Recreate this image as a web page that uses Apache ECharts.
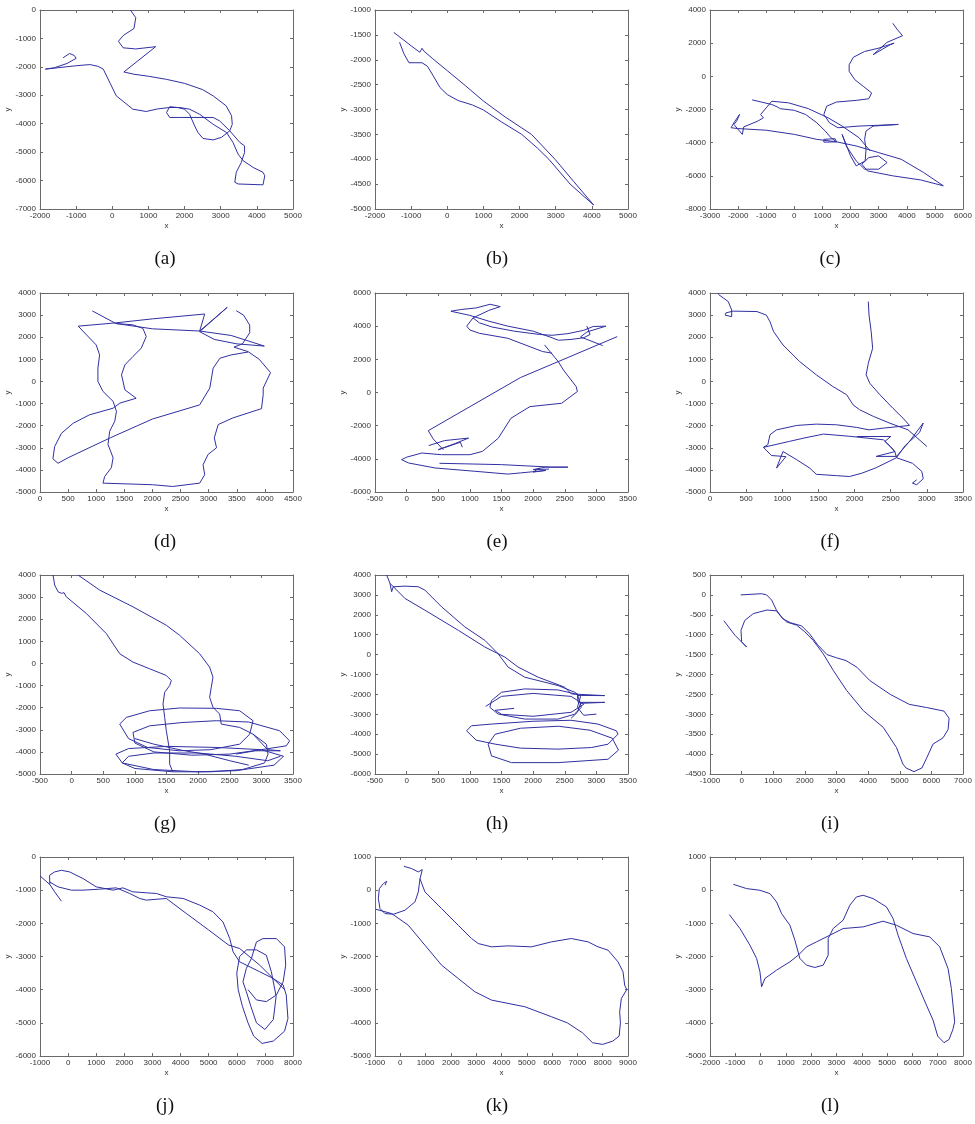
<!DOCTYPE html>
<html>
<head>
<meta charset="utf-8">
<title>trajectories</title>
<script src="https://cdn.jsdelivr.net/npm/echarts@6/dist/echarts.min.js"></script>
<style>
	html, body { margin: 0; padding: 0; background: #fff; }
	#main { width: 975px; height: 1124px; }
</style>
</head>
<body>
<div id="main"></div>
<script type="text/javascript">
	// subplot captions
	var labels = ['(a)', '(b)', '(c)', '(d)', '(e)', '(f)', '(g)', '(h)', '(i)', '(j)', '(k)', '(l)'];

	// axis ranges of every subplot: [min, max, step]
	var xRanges = [
		[-2000, 5000, 1000], [-2000, 5000, 1000], [-3000, 6000, 1000],
		[0, 4500, 500], [-500, 3500, 500], [0, 3500, 500],
		[-500, 3500, 500], [-500, 3500, 500], [-1000, 7000, 1000],
		[-1000, 8000, 1000], [-1000, 9000, 1000], [-2000, 8000, 1000]
	];
	var yRanges = [
		[-7000, 0, 1000], [-5000, -1000, 500], [-8000, 4000, 2000],
		[-5000, 4000, 1000], [-6000, 6000, 2000], [-5000, 4000, 1000],
		[-5000, 4000, 1000], [-6000, 4000, 1000], [-4500, 500, 500],
		[-6000, 0, 1000], [-5000, 1000, 1000], [-5000, 1000, 1000]
	];

	// trajectories (each panel = list of strokes)
	var pathA = [[
		[500,0],[650,-270],[600,-650],[300,-900],[170,-1100],[300,-1330],[650,-1370],[1200,-1290],[320,-2180],
		[600,-2260],[1000,-2330],[1500,-2440],[2000,-2580],[2500,-2800],[2800,-3030],[3150,-3370],[3300,-3720],
		[3320,-4020],[3250,-4250],[3020,-4480],[2790,-4570],[2510,-4520],[2370,-4310],[2280,-4080],[2140,-3670],
		[2000,-3490],[1800,-3430],[1590,-3400],[1500,-3610],[1590,-3780],[1870,-3780],[2790,-3780],[2970,-3900],
		[3250,-4250],[3530,-4660],[3660,-4780],[3660,-5010],[3570,-5360],[3430,-5710],[3390,-6060],[3480,-6120],
		[4170,-6150],[4220,-5830],[4170,-5710],[3900,-5540],[3620,-5300],[3480,-5070],[3340,-4660],[3160,-4310],
		[2790,-4020],[2420,-3670],[2140,-3490],[1870,-3430],[1590,-3430],[1250,-3480],[940,-3570],[570,-3490],
		[110,-3020],[-50,-2600],[-250,-2080],[-400,-1980],[-620,-1920],[-1000,-1960],[-1500,-2030],[-1850,-2080],
		[-1600,-2030],[-1250,-1880],[-1000,-1700],[-1050,-1600],[-1180,-1530],[-1360,-1680]
	]];
	var pathB = [[
		[-1320,-1650],[-1200,-1880],[-1060,-2060],[-700,-2060],[-550,-2130],[-400,-2310],[-200,-2560],[0,-2700],
		[300,-2820],[700,-2910],[1000,-3010],[1500,-3250],[2060,-3500],[2500,-3780],[2810,-4000],[3400,-4500],
		[4050,-4920],[3500,-4450],[2980,-4000],[2330,-3500],[1600,-3150],[1000,-2830],[500,-2520],[0,-2220],
		[-400,-1980],[-640,-1830],[-700,-1770],[-760,-1850],[-1000,-1720],[-1480,-1450]
	]];
	var pathC = [[
		[3500,3200],[3650,2850],[3850,2450],[3800,2350],[3300,2050],[2800,1300],[3400,1900],[3550,2000],[3000,1700],
		[2500,1500],[2100,1150],[1950,700],[1950,300],[2150,-200],[2450,-600],[2750,-1000],[2650,-1350],[2200,-1450],
		[1500,-1550],[1150,-1800],[1050,-2300],[1250,-2800],[1550,-3100],[2300,-3000],[3700,-2900],[2800,-3000],
		[2550,-3300],[2500,-3800],[2550,-4400],[2520,-5100],[2200,-5400],[2000,-4800],[1700,-3500],[1850,-4200],
		[2200,-5100],[2500,-5600],[3000,-5600],[3300,-5200],[3000,-4800],[2650,-4900],[2400,-5300],[2600,-5700],
		[3500,-6000],[4500,-6250],[5300,-6600],[4600,-5800],[3800,-5000],[3000,-4600],[2200,-4200],[1500,-3950],
		[1450,-3760],[1050,-3800],[1050,-3970],[1500,-3950],[800,-3800],[0,-3500],[-1000,-3250],[-2000,-3150],
		[-2250,-3100],[-2150,-2800],[-1950,-2300],[-2050,-2700],[-2150,-2900],[-1850,-3500],[-1800,-3050],
		[-1300,-2700],[-1100,-2500],[-1200,-2300],[-1000,-1900],[-800,-1500],[-200,-1600],[500,-1950],
		[1200,-2500],[1700,-3000],[2300,-3700],[2700,-4500]
	], [
		[-1500,-1420],[-800,-1700],[-600,-1850],[-500,-1950],[0,-2050],[400,-2300],[800,-2800],[1100,-3300],
		[1300,-3700],[1500,-3950]
	]];
	var pathD = [[
		[930,3190],[1350,2620],[2000,2380],[2840,2280],[3400,2080],[3990,1600],[3500,1700],[3100,1900],[2840,2250],
		[3330,3350],[2840,2280],[2930,3050],[2000,2830],[1350,2650],[680,2500],[830,2100],[1000,1650],[1060,1200],
		[1030,600],[1030,0],[1120,-450],[1300,-900],[1360,-1350],[1330,-1800],[1240,-2250],[1210,-2850],[1300,-3450],
		[1270,-3900],[1150,-4300],[1120,-4600],[2000,-4670],[2360,-4750],[2840,-4600],[2930,-4220],[2900,-3770],
		[2990,-3300],[3140,-3000],[3100,-2550],[3170,-1950],[3430,-1650],[3940,-1230],[3970,-600],[3970,-300],
		[4100,400],[3900,1000],[3700,1350],[3450,1550],[3600,1700],[3730,2200],[3730,2550],[3620,3000],[3490,3200]
	], [
		[3700,1330],[3400,1200],[3200,1050],[3080,600],[3020,-300],[2840,-1060],[2000,-1700],[1250,-2550],
		[500,-3450],[320,-3700],[230,-3500],[260,-2950],[380,-2350],[590,-1890],[880,-1510],[1300,-1210],
		[1420,-980],[1710,-760],[1510,-380],[1450,300],[1510,750],[1650,1120],[1800,1500],[1890,2030],
		[1830,2400],[1650,2560],[1350,2620]
	]];
	var pathE = [[
		[3330,3370],[1800,900],[342,-2300],[420,-2800],[580,-3450]
	], [
		[2180,2870],[2400,1850],[2480,1350],[2680,360],[2700,60],[2450,-650],[1950,-850],[1650,-1550],[1450,-2750],
		[1200,-3550],[1000,-3750],[550,-3750],[240,-3650],[0,-3900],[-80,-4050],[30,-4250],[450,-4550],
		[1080,-4750],[1600,-4920],[1800,-4850],[2200,-4700],[2000,-4800],[2100,-4550]
	], [
		[700,4900],[850,5000],[1100,5100],[1320,5320],[1480,5180],[1300,4950],[1050,4500],[950,4000],[1000,3770],
		[1150,3570],[1600,3270],[2150,2470],[2300,2370]
	], [
		[1050,4500],[1150,4200],[1350,3950],[1700,3700],[2100,3500],[2300,3450],[2550,3550],[2800,3750],
		[2950,3980],[3150,4000],[2850,3650],[2750,3350],[3100,2830]
	], [
		[700,4900],[1000,4650],[1300,4300],[1600,4000],[2000,3700],[2300,3300],[2400,3150],[2600,3200],
		[2800,3300],[2900,3500],[2850,4000]
	], [
		[520,-4270],[1500,-4350],[2290,-4500],[2550,-4500],[2200,-4500],[2000,-4650],[2250,-4620]
	], [
		[350,-3200],[600,-2900],[850,-2800],[980,-2750],[750,-3100],[500,-3450],[850,-3000],[880,-3300]
	]];
	var pathF = [[
		[115,3940],[253,3610],[300,3230],[300,2930],[210,3000],[220,3100],[320,3180],[650,3160],[780,3000],
		[830,2700],[880,2250],[1010,1650],[1240,900],[1470,300],[1700,-230],[1890,-600],[1980,-1060],[2070,-1280],
		[2260,-1580],[2490,-1890],[2740,-2190],[3000,-2940]
	], [
		[2190,3610],[2200,3000],[2230,2250],[2250,1500],[2190,820],[2160,300],[2210,-80],[2350,-600],[2530,-1210],
		[2670,-1660],[2760,-1990],[2400,-2110],[2200,-2190],[2030,-2080],[1750,-1960],[1470,-1930],[1200,-1990],
		[920,-2190],[830,-2410],[800,-2860],[740,-2980]
	], [
		[740,-2980],[1100,-2710],[1300,-2560],[1570,-2380],[1930,-2480],[2400,-2640],[2500,-2950],[2560,-3200],
		[2580,-3450],[2300,-3900],[2100,-4150],[1930,-4300],[1750,-4260],[1470,-4200],[1380,-3920],[1200,-3540],
		[1010,-3170],[920,-3920],[1050,-3400],[850,-3350],[740,-2980]
	], [
		[2030,-2490],[2500,-2490],[2420,-2710],[2560,-3170],[2300,-3390],[2580,-3390],[2760,-2710],[2950,-1880],
		[2900,-2300],[2700,-2900],[2580,-3450],[2800,-3700],[2930,-4070],[2950,-4400],[2860,-4670],[2800,-4600],
		[2860,-4450]
	]];
	var pathG = [[
		[-294,4000],[-268,3545],[-215,3242],[-160,3170],[-120,3200],[-84,3015],[233,2258],[549,1348],[760,440],
		[970,60],[1234,-242],[1497,-545],[1576,-773],[1550,-1000],[1471,-1303],[1445,-1833],[1471,-2440],
		[1497,-3045],[1550,-3955],[1550,-4560],[1600,-4900]
	], [
		[101,4000],[443,3318],[970,2561],[1497,1727],[1708,1273],[2024,439],[2182,-167],[2235,-621],[2208,-1076],
		[2182,-1530],[2235,-1985],[2340,-2288],[2366,-2742],[2657,-2894],[2868,-3197],[3079,-3652],[3105,-4106],
		[3050,-4500],[2700,-4800],[2200,-4900],[1600,-4900],[1000,-4750],[800,-4500],[900,-4200],[1300,-4050],
		[2000,-4050],[2600,-4200],[3100,-4400],[3300,-4200]
	], [
		[760,-2740],[865,-2440],[1234,-2140],[1708,-2015],[2287,-2030],[2657,-2140],[2868,-2590],[2815,-3200],
		[2657,-3650],[2200,-3900],[1700,-3950],[1200,-3800],[900,-3400],[760,-2740]
	], [
		[970,-3120],[1234,-2820],[1761,-2670],[2287,-2590],[2800,-2650],[3289,-3045],[3447,-3500],[3394,-3727],
		[3000,-3900],[2500,-4100],[1900,-4150],[1300,-4000],[1000,-3600],[970,-3120]
	], [
		[700,-4100],[900,-3850],[1500,-3750],[2300,-3800],[3000,-3900],[3350,-4200],[3200,-4600],[2600,-4850],
		[2000,-4900],[1300,-4800],[800,-4500],[700,-4100]
	], [
		[1000,-3400],[1300,-3650],[1750,-3930],[2100,-4100],[2500,-4400],[2800,-4600]
	], [
		[2868,-3200],[3100,-3900],[3300,-3950],[2900,-3950],[2600,-4100]
	]];
	var pathH = [[
		[-316,4000],[-263,3580],[-237,3160],[-211,3410],[-26,3440],[184,3410],[289,3240],[553,2400],[921,1390],
		[1237,717],[1447,43],[1605,-630],[1868,-1135],[2395,-1556],[2658,-1892],[2750,-2100],[2700,-2650],
		[2800,-3050],[3000,-2990]
	], [
		[-263,3580],[-26,2822],[289,2232],[816,1222],[1237,380],[1553,-124],[1763,-630],[2079,-1135],[2500,-1640],
		[2605,-1977],[3132,-2061],[2700,-2050],[2711,-2400],[3132,-2400],[2750,-2450],[2700,-2900],[2600,-3200]
	], [
		[1342,-2313],[1500,-1892],[1868,-1724],[2395,-1775],[2700,-2000],[2763,-2650],[2650,-3000],[2395,-3240],
		[1868,-3240],[1447,-2987],[1316,-2650],[1342,-2313]
	], [
		[1250,-2600],[1500,-2100],[2000,-1950],[2600,-2100],[2800,-2500],[2600,-2900],[2000,-3100],[1500,-3000],
		[1400,-2800],[1700,-2700]
	], [
		[947,-3828],[1026,-3576],[1342,-3492],[2000,-3350],[2600,-3300],[3026,-3492],[3316,-3828],[3342,-4000],
		[3184,-4503],[2921,-4670],[2395,-4750],[1800,-4700],[1400,-4500],[1100,-4300],[947,-3828]
	], [
		[1289,-4502],[1342,-5091],[1658,-5428],[2395,-5428],[3184,-5259],[3350,-4800],[3250,-4200],[2900,-3800],
		[2400,-3600],[1800,-3700],[1400,-4000],[1289,-4502]
	]];
	var pathI = [[
		[-30,0],[630,30],[790,0],[950,-130],[1100,-380],[1300,-600],[1550,-700],[1900,-780],[2150,-980],
		[2400,-1250],[2700,-1500],[3000,-1580],[3300,-1650],[3650,-1820],[4050,-2150],[4700,-2500],[5300,-2750],
		[5850,-2830],[6400,-2920],[6560,-3100],[6530,-3380],[6370,-3590],[6050,-3750],[5850,-4100],[5700,-4350],
		[5450,-4440],[5200,-4350],[5100,-4250],[4900,-3840],[4480,-3330],[3850,-2910],[3320,-2400],[2900,-1900],
		[2580,-1480],[2260,-1140],[2000,-930],[1740,-760],[1420,-680],[1210,-510],[1100,-400],[800,-380],
		[370,-470],[100,-640],[-20,-890],[0,-1180],[160,-1310],[-210,-1015],[-560,-650]
	]];
	var pathJ = [[
		[-1000,-570],[-650,-830],[-480,-1050],[-240,-1330]
	], [
		[-650,-830],[-660,-550],[-480,-450],[-240,-400],[55,-450],[530,-650],[1000,-900],[1600,-1000],[1950,-930],
		[2300,-1050],[2780,-1080],[3140,-1100],[3500,-1200],[4090,-1250],[4680,-1450],[5150,-1650],[5510,-1960],
		[5750,-2460],[5870,-2860],[6100,-3160],[6815,-3460],[7290,-3660],[7650,-3860],[7760,-4160],[7820,-4870],
		[7700,-5250],[7300,-5550],[6900,-5620],[6600,-5400],[6400,-5000],[6200,-4500],[6050,-4000],[6000,-3500],
		[6100,-3000],[6350,-2800],[6700,-2800],[7050,-2960],[7230,-3460],[7400,-4200],[7300,-4900],[7000,-5200],
		[6700,-5000],[6500,-4500],[6340,-4060],[6220,-3760],[6340,-3360],[6520,-3060],[6700,-2560],[6930,-2460],
		[7410,-2460],[7700,-2710],[7740,-3260],[7650,-3760],[7410,-4160],[7050,-4360],[6700,-4310],[6400,-4000]
	], [
		[-660,-750],[-360,-900],[115,-1000],[530,-1000],[1120,-970],[1716,-930],[2190,-1100],[2546,-1250],
		[2783,-1300],[3494,-1250],[4200,-1700],[5000,-2200],[5700,-2650],[6103,-2760],[6815,-3260],[7290,-3660],
		[7700,-4000]
	]];
	var pathK = [[
		[145,720],[450,650],[710,550],[870,620],[780,350],[711,-53],[579,-354],[184,-605],[-276,-726],[-605,-706],
		[-803,-555],[-868,-254],[-829,47],[-671,197],[-539,268],[-600,150]
	], [
		[-974,-575],[-340,-706],[316,-1057],[974,-1659],[1632,-2261],[2289,-2662],[2947,-3063],[3605,-3314],
		[4921,-3515],[5974,-3816],[6600,-4000],[7200,-4300],[7600,-4600],[8000,-4650],[8400,-4550],[8650,-4400],
		[8700,-4000],[8671,-3665],[8737,-3264],[8950,-3000],[8868,-2863],[8803,-2462],[8605,-2161],[8211,-1809],
		[7816,-1709],[7421,-1559],[6763,-1458],[5974,-1559],[5184,-1709],[4263,-1679],[3605,-1709],[3079,-1609],
		[2816,-1458],[2289,-1057],[1632,-555],[974,-53],[776,348]
	]];
	var pathL = [[
		[-1079,177],[-553,47],[-26,-3],[368,-104],[632,-354],[829,-706],[1158,-1057],[1355,-1508],[1553,-2060],
		[1816,-2261],[2145,-2331],[2474,-2261],[2671,-1960],[2671,-1458],[2868,-1157],[3263,-906],[3526,-455],
		[3789,-204],[4053,-154],[4447,-254],[4974,-505],[5237,-856],[5434,-1358],[5763,-2060],[6158,-2762],
		[6553,-3465],[6816,-3917],[7000,-4400],[7250,-4600],[7450,-4500],[7600,-4200],[7671,-3967],[7539,-2963],
		[7408,-2361],[7079,-1709],[6684,-1408],[6026,-1308],[5368,-1057],[4842,-936],[4053,-1107],[3263,-1157],
		[2737,-1358],[2211,-1558],[1816,-1709],[1487,-1960],[1158,-2160],[632,-2411],[171,-2662],[39,-2913],
		[-26,-2461],[-158,-2060],[-421,-1659],[-816,-1157],[-1237,-736]
	]];
	var paths = [pathA, pathB, pathC, pathD, pathE, pathF, pathG, pathH, pathI, pathJ, pathK, pathL];

	// layout of the 4x3 panel grid
	var colLeft = [40, 375, 710];
	var rowTop = [10, 293, 575, 857];
	var plotW = 253, plotH = 199;
	var captionX = [165, 497, 830];

	var boxColor = '#6a6a6a';
	var textColor = '#333';
	var lineColor = '#3030a2';

	var grids = [], xAxes = [], yAxes = [], series = [], graphics = [];

	function axisBase(gridIdx, r, pos, showLabel) {
		return {
			type: 'value',
			gridIndex: gridIdx,
			position: pos,
			min: r[0],
			max: r[1],
			interval: r[2],
			axisLine: { show: true, onZero: false, lineStyle: { color: boxColor, width: 1 } },
			axisTick: { show: true, inside: true, length: 3, lineStyle: { color: boxColor } },
			axisLabel: {
				show: showLabel,
				fontSize: 8,
				color: textColor,
				fontFamily: 'Liberation Sans',
				margin: (pos == 'left' ? 4 : 3),
				showMinLabel: true,
				showMaxLabel: true,
				// plain numbers, no thousands separator
				formatter: function (v) { return String(v); }
			},
			splitLine: { show: false }
		};
	}

	for (var i = 0; i < 12; i++) {
		var col = i % 3, row = Math.floor(i / 3);
		grids.push({ left: colLeft[col], top: rowTop[row], width: plotW, height: plotH });

		var xb = axisBase(i, xRanges[i], 'bottom', true);
		xb.name = 'x';
		xb.nameLocation = 'middle';
		xb.nameGap = 13;
		xb.nameTextStyle = { fontSize: 8, color: textColor, fontFamily: 'Liberation Sans' };
		xAxes.push(xb);
		xAxes.push(axisBase(i, xRanges[i], 'top', false));

		var yl = axisBase(i, yRanges[i], 'left', true);
		yl.name = 'y';
		yl.nameLocation = 'middle';
		yl.nameGap = 28;
		yl.nameRotate = 90;
		yl.nameTextStyle = { fontSize: 8, color: textColor, fontFamily: 'Liberation Sans' };
		yAxes.push(yl);
		yAxes.push(axisBase(i, yRanges[i], 'right', false));

		var segs = paths[i];
		for (var s = 0; s < segs.length; s++) {
			series.push({
				type: 'line',
				xAxisIndex: 2 * i,
				yAxisIndex: 2 * i,
				data: segs[s],
				symbol: 'none',
				showSymbol: false,
				silent: true,
				clip: true,
				lineStyle: { color: lineColor, width: 1 }
			});
		}

		graphics.push({
			type: 'text',
			x: captionX[col],
			y: rowTop[row] + 249,
			style: {
				text: labels[i],
				font: '19px "Liberation Serif"',
				fill: '#111',
				textAlign: 'center',
				textVerticalAlign: 'middle'
			}
		});
	}

	var myChart = echarts.init(document.getElementById('main'));
	myChart.setOption({
		animation: false,
		backgroundColor: '#fff',
		grid: grids,
		xAxis: xAxes,
		yAxis: yAxes,
		series: series,
		graphic: graphics
	});
</script>
</body>
</html>
